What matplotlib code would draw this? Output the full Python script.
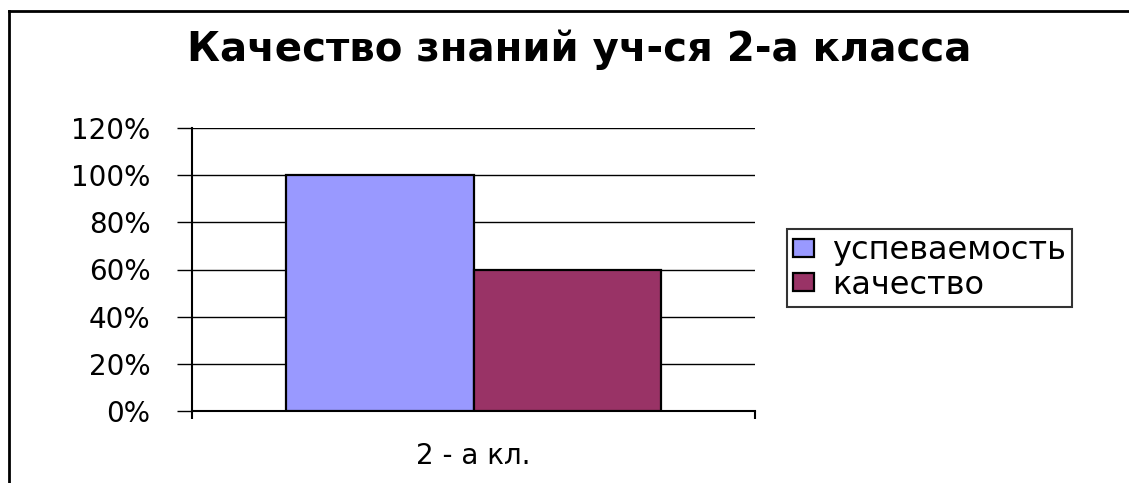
import matplotlib
matplotlib.use("Agg")
import matplotlib.pyplot as plt
from matplotlib.lines import Line2D

plt.rcParams['font.family'] = ['DejaVu Sans']

title = "Качество знаний уч-ся 2-а класса"
category = "2 - а кл."
series_names = ["успеваемость", "качество"]
series_values = [1.00, 0.60]
series_colors = ["#9999FF", "#993366"]
yticks = [0.0, 0.2, 0.4, 0.6, 0.8, 1.0, 1.2]
ytick_labels = ["0%", "20%", "40%", "60%", "80%", "100%", "120%"]

W, H = 1129, 483
fig = plt.figure(figsize=(W / 100, H / 100), dpi=100)
fig.patch.set_facecolor("white")

# outer frame (top and left edges visible)
fig.add_artist(Line2D([9 / W, 9 / W], [0, 1 - 11 / H], transform=fig.transFigure,
                      color="black", lw=2))
fig.add_artist(Line2D([9 / W, 1], [1 - 11 / H, 1 - 11 / H], transform=fig.transFigure,
                      color="black", lw=2))

ax = fig.add_axes([192 / W, 1 - 411 / H, (755 - 192) / W, (411 - 128) / H])
bw = 1 / 3
offsets = [-bw / 2, bw / 2]
for name, val, col, off in zip(series_names, series_values, series_colors, offsets):
    ax.bar(off, val, width=bw, color=col, edgecolor="black", linewidth=1.6,
           label=name, zorder=3)

ax.set_xlim(-0.5, 0.5)
ax.set_ylim(0, 1.2)
ax.set_yticks(yticks)
ax.set_yticklabels(ytick_labels, fontsize=20)
ax.yaxis.grid(True, color="black", linewidth=1.0, zorder=0)
ax.set_axisbelow(True)
ax.tick_params(axis="y", length=11, width=1.0, pad=19, direction="out")

ax.set_xticks([-0.5, 0.5])
ax.set_xticklabels(["", ""])
ax.tick_params(axis="x", which="major", length=6, width=1.5, direction="out")
ax.set_xticks([0.0], minor=True)
ax.set_xticklabels([category], minor=True, fontsize=20)
ax.tick_params(axis="x", which="minor", length=0, pad=22)

for s in ["top", "right"]:
    ax.spines[s].set_visible(False)
ax.spines["left"].set_linewidth(1.5)
ax.spines["bottom"].set_linewidth(1.5)

fig.text(579 / W, 1 - 50 / H, title, ha="center", va="center",
         fontsize=29, fontweight="bold")

leg = fig.legend(loc="center left", bbox_to_anchor=(787 / W, 1 - 268 / H),
                 fontsize=23, frameon=True, fancybox=False, shadow=False,
                 handlelength=0.65, handleheight=0.5, handletextpad=0.55,
                 borderpad=0.2, labelspacing=0.1, borderaxespad=0)
leg.get_frame().set_edgecolor("black")
leg.get_frame().set_linewidth(1.5)

fig.savefig("out.png", dpi=100, facecolor="white")
